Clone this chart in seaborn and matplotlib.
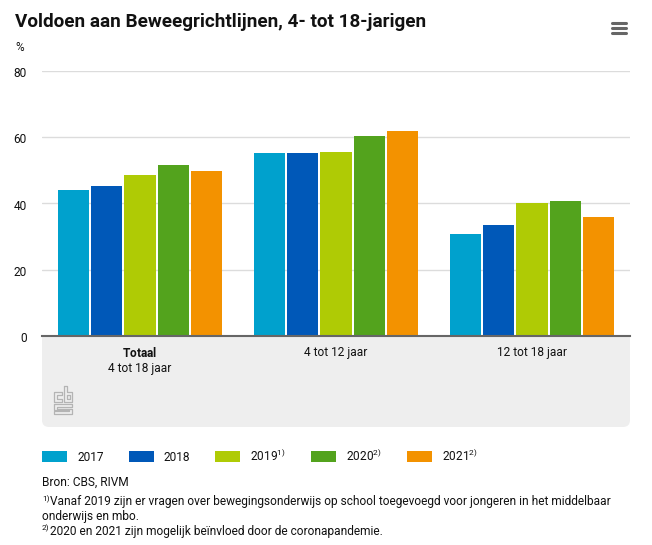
import numpy as np
import pandas as pd
import matplotlib
matplotlib.use("Agg")
import matplotlib.pyplot as plt
from matplotlib.patches import FancyBboxPatch
from matplotlib.lines import Line2D
from matplotlib.transforms import ScaledTranslation
import seaborn as sns

groups = ["$\\mathbf{Totaal}$\n4 tot 18 jaar", "4 tot 12 jaar", "12 tot 18 jaar"]
years = ["2017", "2018", "2019$^{1)}$", "2020$^{2)}$", "2021$^{2)}$"]
v2017 = [44.0, 55.2, 30.8]
v2018 = [45.2, 55.2, 33.5]
v2019 = [48.5, 55.4, 40.2]
v2020 = [51.5, 60.2, 40.8]
v2021 = [49.7, 61.7, 35.8]
colors = ["#00a1cd", "#0058b8", "#afcb05", "#53a31d", "#f39200"]

W, H = 652, 545
FS = 8.6
sns.set_theme(style="white")
plt.rcParams["font.family"] = ["Roboto", "DejaVu Sans"]
plt.rcParams["mathtext.fontset"] = "custom"
plt.rcParams["mathtext.rm"] = "Roboto"
plt.rcParams["mathtext.bf"] = "Roboto:bold"
plt.rcParams["mathtext.default"] = "regular"

rows = []
for year, vals in zip(years, [v2017, v2018, v2019, v2020, v2021]):
    for g, v in zip(groups, vals):
        rows.append({"groep": g, "jaar": year, "waarde": v})
df = pd.DataFrame(rows)

fig = plt.figure(figsize=(W / 100, H / 100), dpi=100)
ax = fig.add_axes([42 / W, 1 - 336 / H, 588 / W, 265.5 / H])
ax.set_zorder(1)

sns.barplot(data=df, x="groep", y="waarde", hue="jaar", palette=colors, hue_order=years,
            width=0.845, gap=0.06, saturation=1, ax=ax, errorbar=None, linewidth=0)

ax.set_xlim(-0.5, 2.5)
ax.set_ylim(0, 80)
ax.set_yticks([0, 20, 40, 60, 80])
ax.set_xlabel("")
ax.set_ylabel("")
ax.grid(axis="y", color="#dcdcdc", lw=1)
ax.set_axisbelow(True)
sns.despine(ax=ax, left=True, top=True, right=True)
ax.spines["bottom"].set_color("#666666")
ax.spines["bottom"].set_linewidth(1.5)
ax.tick_params(axis="y", length=0, pad=11, labelsize=FS, labelcolor="#111111")
ax.tick_params(axis="x", length=0, pad=7, labelsize=FS, labelcolor="#111111")
for lab in ax.get_yticklabels():
    lab.set_transform(lab.get_transform() + ScaledTranslation(0, -1.5 / 100, fig.dpi_scale_trans))

handles, labels = ax.get_legend_handles_labels()
ax.legend(handles, labels, loc="upper left", bbox_to_anchor=(42 / W, 1 - 447 / H),
          bbox_transform=fig.transFigure, ncol=5, frameon=False, fontsize=FS,
          handlelength=2.1, handleheight=1.15, handletextpad=0.85, columnspacing=2.08,
          borderpad=0, borderaxespad=0, labelcolor="#111111")


def fx(x):
    return x / 100


def fy(y):
    return (H - y) / 100


# grey panel under the axis
panel = FancyBboxPatch((fx(48), fy(421)), 5.76, 0.9, transform=fig.dpi_scale_trans,
                       boxstyle="round,pad=0.06,rounding_size=0.07",
                       fc="#eeeeee", ec="none", zorder=-1)
fig.add_artist(panel)


def px_line(xs, ys, color, lw, **kw):
    fig.add_artist(Line2D([fx(x) for x in xs], [fy(y) for y in ys], color=color, lw=lw,
                          transform=fig.dpi_scale_trans, zorder=2, **kw))


# cbs logo
logo = "#b4b4b4"
px_line([62, 54, 54, 62, 62, 57, 57, 62, 62], [392, 392, 402, 402, 399, 399, 395, 395, 392], logo, 0.9)
px_line([64, 67, 67, 72, 72, 64, 64], [386, 386, 392, 392, 402, 402, 386], logo, 0.9)
px_line([67, 69.5, 69.5, 67, 67], [395, 395, 399, 399, 395], logo, 0.9)
px_line([54, 72, 72, 57, 57, 72, 72, 54, 54, 69, 69, 54, 54],
        [404, 404, 407, 407, 408.5, 408.5, 414, 414, 411, 411, 410, 410, 404], logo, 0.9)

# menu icon
for y in [22.5, 27.5, 32.5]:
    px_line([612, 626], [y, y], "#666666", 2.2, solid_capstyle="round")


def txt(x, y, s, **kw):
    fig.text(x / W, 1 - y / H, s, va="baseline", color="#111111", **kw)


txt(15, 27, "Voldoen aan Beweegrichtlijnen, 4- tot 18-jarigen", fontsize=13.6, fontweight="bold")
txt(15, 51, "%", fontsize=FS)
txt(42, 486, "Bron: CBS, RIVM", fontsize=FS)
txt(42, 501.5, "1)", fontsize=6)
txt(50, 505.5, "Vanaf 2019 zijn er vragen over bewegingsonderwijs op school toegevoegd voor jongeren in het middelbaar", fontsize=FS)
txt(42, 520, "onderwijs en mbo.", fontsize=FS)
txt(42, 530, "2)", fontsize=6)
txt(50, 534.5, "2020 en 2021 zijn mogelijk beïnvloed door de coronapandemie.", fontsize=FS)

fig.savefig("out.png", dpi=100, facecolor="white")
